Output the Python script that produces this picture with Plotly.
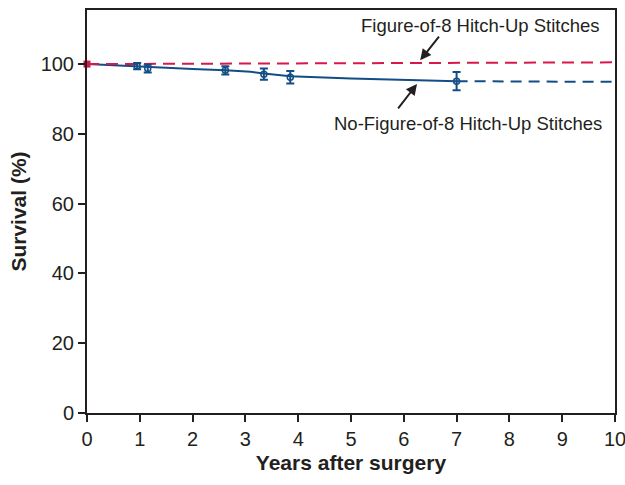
import plotly.graph_objects as go

# Data
pt_years = [0.95, 1.15, 2.62, 3.35, 3.85, 7.0]
pt_surv = [99.4, 98.7, 98.2, 97.1, 96.2, 95.1]
pt_err = [0.9, 1.1, 1.2, 1.6, 1.8, 2.6]

no_fig8_x = [0, 0.5, 0.95, 1.15, 2.0, 2.62, 3.1, 3.35, 3.85, 5.0, 6.0, 7.0]
no_fig8_y = [100, 99.7, 99.4, 99.1, 98.6, 98.2, 97.8, 97.3, 96.5, 95.9, 95.5, 95.1]
no_fig8_ext_x = [7.0, 10.0]
no_fig8_ext_y = [95.1, 94.9]

fig8_x = [0, 10]
fig8_y = [100, 100.5]

x_ticks = list(range(0, 11))
y_ticks = [0, 20, 40, 60, 80, 100]

BLUE = "#134d85"
RED = "#d8174a"
INK = "#231f20"

fig = go.Figure()
fig.add_trace(go.Scatter(x=no_fig8_ext_x, y=no_fig8_ext_y, mode="lines",
                         line=dict(color=BLUE, width=2, dash="11px,7px"), showlegend=False))
fig.add_trace(go.Scatter(x=no_fig8_x, y=no_fig8_y, mode="lines",
                         line=dict(color=BLUE, width=2), showlegend=False))
fig.add_trace(go.Scatter(x=fig8_x, y=fig8_y, mode="lines",
                         line=dict(color=RED, width=2, dash="12px,7px"), showlegend=False))
fig.add_trace(go.Scatter(x=pt_years, y=pt_surv, mode="markers",
                         marker=dict(symbol="circle-open", size=6, color=BLUE, line=dict(width=1.5, color=BLUE)),
                         error_y=dict(type="data", array=pt_err, color=BLUE, thickness=2, width=4),
                         showlegend=False))
fig.add_trace(go.Scatter(x=[0], y=[100], mode="markers",
                         marker=dict(symbol="square", size=7, color=RED),
                         cliponaxis=False, showlegend=False))

fig.add_annotation(x=6.31, y=101.1, ax=20, ay=-25, text="", showarrow=True,
                   arrowhead=2, arrowsize=1.1, arrowwidth=2, arrowcolor=INK)
fig.add_annotation(x=6.25, y=94.3, ax=-20, ay=26, text="", showarrow=True,
                   arrowhead=2, arrowsize=1.1, arrowwidth=2, arrowcolor=INK)
fig.add_annotation(x=7.46, y=111.2, text="Figure-of-8 Hitch-Up Stitches", showarrow=False,
                   font=dict(size=18.5, color=INK))
fig.add_annotation(x=7.22, y=83.1, text="No-Figure-of-8 Hitch-Up Stitches", showarrow=False,
                   font=dict(size=18.5, color=INK))

axis_common = dict(showline=True, linecolor=INK, linewidth=2, mirror=True,
                   ticks="outside", ticklen=7, tickwidth=2, tickcolor=INK,
                   showgrid=False, zeroline=False, automargin=False,
                   ticklabeloverflow="allow",
                   tickfont=dict(size=20, color=INK))

fig.update_xaxes(range=[0, 10], tickvals=x_ticks,
                 title=dict(text="<b>Years after surgery</b>", font=dict(size=21, color=INK), standoff=6),
                 **axis_common)
fig.update_yaxes(range=[0, 115.5], tickvals=y_ticks,
                 title=dict(text="<b>Survival (%)</b>", font=dict(size=21, color=INK), standoff=8),
                 **axis_common)

fig.update_layout(width=625, height=485, margin=dict(l=87, r=10, t=10, b=72),
                  plot_bgcolor="white", paper_bgcolor="white",
                  font=dict(family="Liberation Sans, Arial, sans-serif"))

fig.write_html("out.html", config={"displayModeBar": False},
               post_script="document.body.style.margin='0';")
